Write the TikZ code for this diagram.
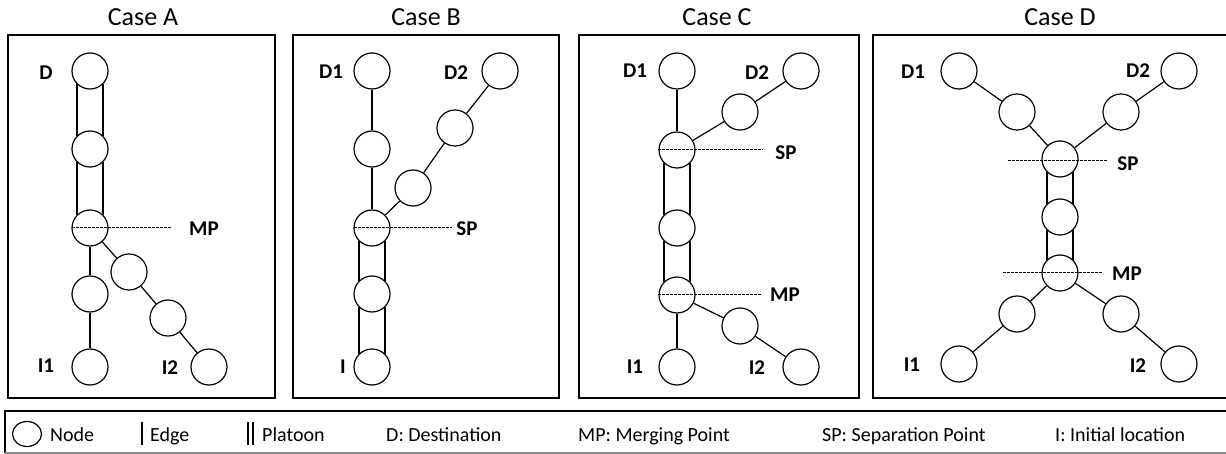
\documentclass[tikz,border=0pt]{standalone}
\usepackage{fontspec}
\setmainfont{Carlito}
\usetikzlibrary{calc,shapes.geometric}
\begin{document}
\begin{tikzpicture}[x=1pt,y=-1pt,
 nd/.style={circle,draw,fill=white,line width=1.2pt,minimum size=36pt,inner sep=0pt},
 edge/.style={line width=1.2pt},
 dline/.style={line width=1pt,dash pattern=on 2.5pt off 1.5pt},
 lbl/.style={font=\fontsize{21}{24}\selectfont\bfseries, inner sep=0pt},
 ttl/.style={font=\fontsize{26}{30}\selectfont, anchor=base, inner sep=0pt},
 leg/.style={font=\fontsize{20}{24}\selectfont, anchor=base west, inner sep=0pt},
 boxline/.style={line width=1.6pt},
 plat/.style={line width=1.2pt}]
\clip (0,0) rectangle (1226,454);
\fill[white] (0,0) rectangle (1226,454);
% panels
\draw[boxline] (8,35) rectangle (275,398);
\draw[boxline] (293,35) rectangle (559,398);
\draw[boxline] (579,35) rectangle (859,398);
\draw[boxline] (873,35) rectangle (1240,398);
% titles
\node[ttl] (tA) at (143,26) {Case A};
\node[ttl] (tB) at (426,26) {Case B};
\node[ttl] (tC) at (717,26) {Case C};
\node[ttl] (tD) at (1060,26) {Case D};
% ---------- Case A
\node[nd] (a1) at (90,71) {};
\node[nd] (a2) at (90,149) {};
\node[nd] (a3) at (90,228) {};
\node[nd] (a4) at (90,294) {};
\node[nd] (a5) at (90,367) {};
\node[nd] (a6) at (129,272) {};
\node[nd] (a7) at (168,318) {};
\node[nd] (a8) at (209,367) {};
\foreach \u/\v in {a1/a2,a2/a3}{
  \draw[plat] (\u.226) -- (\v.134);
  \draw[plat] (\u.314) -- (\v.46);
}
\foreach \u/\v in {a3/a4,a4/a5,a3/a6,a6/a7,a7/a8}{\draw[edge] (\u) -- (\v);}
\draw[dline] ([xshift=-18pt]a3.center) -- ++(99,0);
\node[lbl] (lA1) at (46,73) {D};
\node[lbl] (lA2) at (46,366) {I1};
\node[lbl] (lA3) at (170,368) {I2};
\node[lbl] (lA4) at (204,229) {MP};
% ---------- Case B
\node[nd] (b1) at (372,71) {};
\node[nd] (b2) at (372,149) {};
\node[nd] (b3) at (372,228) {};
\node[nd] (b4) at (372,294) {};
\node[nd] (b5) at (372,367) {};
\node[nd] (b6) at (413,188) {};
\node[nd] (b7) at (455,128) {};
\node[nd] (b8) at (500,71) {};
\foreach \u/\v in {b3/b4,b4/b5}{
  \draw[plat] (\u.226) -- (\v.134);
  \draw[plat] (\u.314) -- (\v.46);
}
\foreach \u/\v in {b1/b2,b2/b3,b3/b6,b6/b7,b7/b8}{\draw[edge] (\u) -- (\v);}
\draw[dline] ([xshift=-18pt]b3.center) -- ++(98,0);
\node[lbl] (lB1) at (331,72) {D1};
\node[lbl] (lB2) at (456,73) {D2};
\node[lbl] (lB3) at (343,367) {I};
\node[lbl] (lB4) at (467,229) {SP};
% ---------- Case C
\node[nd] (c1) at (677,71) {};
\node[nd] (c2) at (677,150) {};
\node[nd] (c3) at (677,228) {};
\node[nd] (c4) at (677,295) {};
\node[nd] (c5) at (677,367) {};
\node[nd] (c6) at (740,112) {};
\node[nd] (c7) at (801,71) {};
\node[nd] (c8) at (740,326) {};
\node[nd] (c9) at (801,367) {};
\foreach \u/\v in {c2/c3,c3/c4}{
  \draw[plat] (\u.226) -- (\v.134);
  \draw[plat] (\u.314) -- (\v.46);
}
\foreach \u/\v in {c1/c2,c2/c6,c6/c7,c4/c5,c4/c8,c8/c9}{\draw[edge] (\u) -- (\v);}
\draw[dline] ([xshift=-19pt]c2.center) -- ++(105,0);
\draw[dline] ([xshift=-19pt]c4.center) -- ++(104,0);
\node[lbl] (lC1) at (635,71) {D1};
\node[lbl] (lC2) at (757,73) {D2};
\node[lbl] (lC3) at (635,367) {I1};
\node[lbl] (lC4) at (757,368) {I2};
\node[lbl] (lC5) at (786,153) {SP};
\node[lbl] (lC6) at (785,295) {MP};
% ---------- Case D
\node[nd] (d1) at (959,71) {};
\node[nd] (d2) at (1017,112) {};
\node[nd] (d3) at (1060,159) {};
\node[nd] (d4) at (1060,217) {};
\node[nd] (d5) at (1060,273) {};
\node[nd] (d6) at (1017,314) {};
\node[nd] (d7) at (959,364) {};
\node[nd] (d8) at (1179,71) {};
\node[nd] (d9) at (1121,112) {};
\node[nd] (d10) at (1121,314) {};
\node[nd] (d11) at (1179,364) {};
\foreach \u/\v in {d3/d4,d4/d5}{
  \draw[plat] (\u.226) -- (\v.134);
  \draw[plat] (\u.314) -- (\v.46);
}
\foreach \u/\v in {d1/d2,d2/d3,d8/d9,d9/d3,d5/d6,d6/d7,d5/d10,d10/d11}{\draw[edge] (\u) -- (\v);}
\draw[dline] ([xshift=-52pt,yshift=-2pt]d3.center) -- ++(100,0);
\draw[dline] ([xshift=-57pt]d5.center) -- ++(100,0);
\node[lbl] (lD1) at (913,72) {D1};
\node[lbl] (lD2) at (1138,71) {D2};
\node[lbl] (lD3) at (912,365) {I1};
\node[lbl] (lD4) at (1138,366) {I2};
\node[lbl] (lD5) at (1128,164) {SP};
\node[lbl] (lD6) at (1127,274) {MP};
% ---------- Legend
\draw[boxline] (1240,411) -- (5,411) -- (5,453);
\draw[line width=1.2pt, black!45] (5,453) -- (1240,453);
\node[draw, ellipse, line width=1.2pt, minimum width=29pt, minimum height=25pt, inner sep=0pt] (lgN) at (27,434) {};
\node[leg] (lgNt) at (50,441) {Node};
\coordinate (e1) at (142,422); \coordinate (e2) at (142,445);
\draw[line width=1.2pt] (e1) -- (e2);
\node[leg] (lgEt) at (150,441) {Edge};
\coordinate (p1) at (248,422); \coordinate (p2) at (248,445);
\coordinate (p3) at (253,422); \coordinate (p4) at (253,445);
\draw[line width=1.2pt] (p1) -- (p2) (p3) -- (p4);
\node[leg] (lgPt) at (262,441) {Platoon};
\node[leg] (lgD) at (386,441) {D: Destination};
\node[leg] (lgMP) at (578,441) {MP: Merging Point};
\node[leg] (lgSP) at (822,441) {SP: Separation Point};
\node[leg] (lgI) at (1055,441) {I: Initial location};
\end{tikzpicture}
\end{document}
